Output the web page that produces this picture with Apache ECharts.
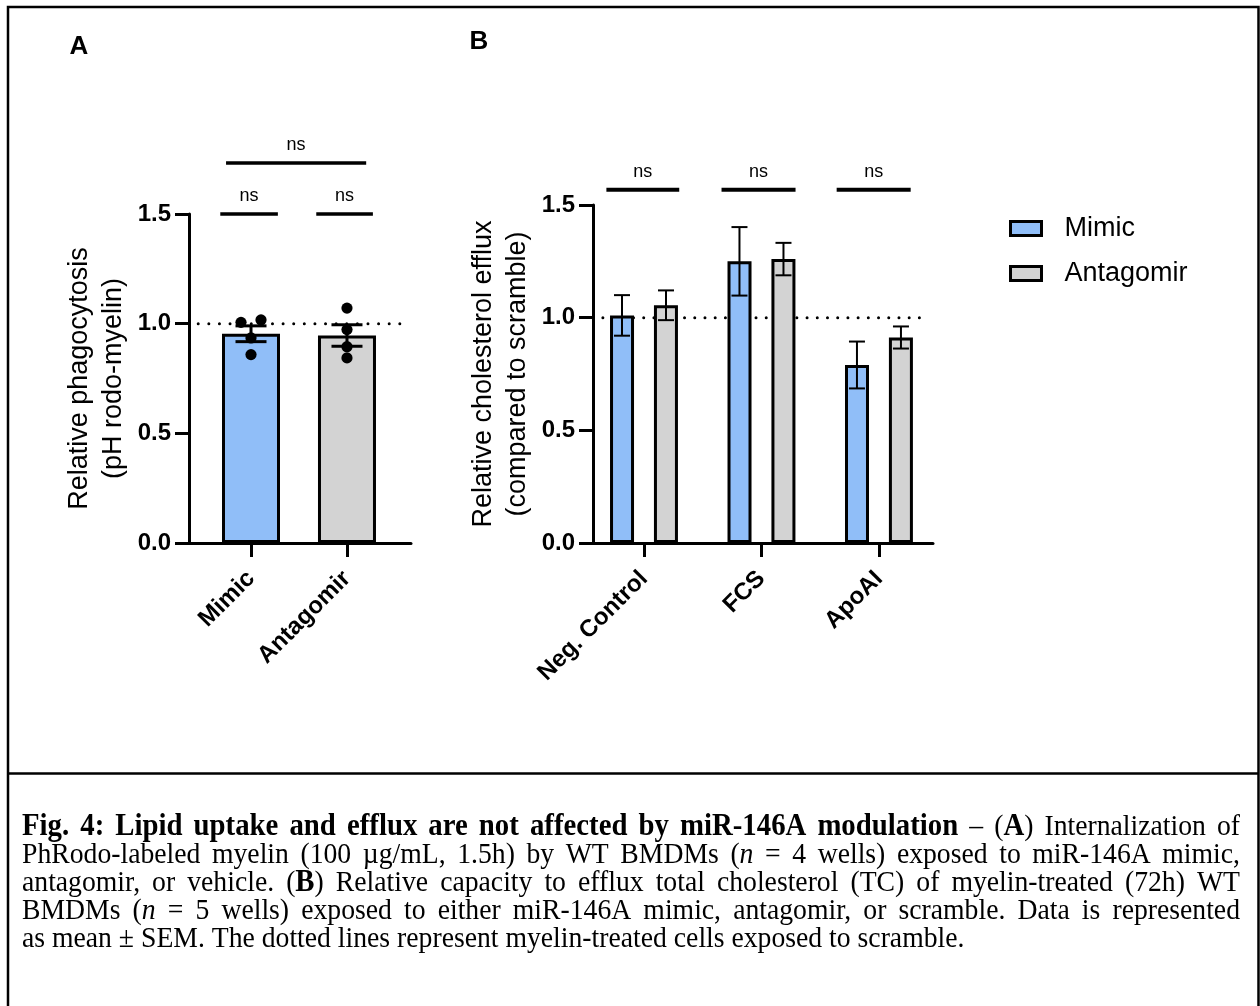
<!DOCTYPE html>
<html>
<head>
<meta charset="utf-8">
<script src="https://cdn.jsdelivr.net/npm/echarts@6/dist/echarts.min.js"></script>
<style>
  html, body { margin: 0; padding: 0; background: #fff; }
  #chart { width: 1260px; height: 1006px; }
</style>
</head>
<body>
<div id="chart"></div>
<script>
// ---- panel A : phagocytosis ----
const groupsA = ['Mimic', 'Antagomir'];
const meanA = [0.954, 0.946];
const semA = [0.036, 0.049];
const dotsMimicA = [1.006, 1.017, 0.935, 0.859];
const dotsAntagomirA = [1.071, 0.973, 0.895, 0.844];

// ---- panel B : cholesterol efflux ----
const groupsB = ['Neg. Control', 'FCS', 'ApoAI'];
const mimicB = [1.01, 1.25, 0.79];
const mimicSemB = [0.09, 0.152, 0.104];
const antagomirB = [1.055, 1.26, 0.912];
const antagomirSemB = [0.066, 0.072, 0.049];

const yTickStep = 0.5;
const yMax = 1.5;

const BLUE = '#90bef8';
const GREY = '#d3d3d3';
const SANS = 'Liberation Sans';
const SERIF = 'Liberation Serif';

function initChart() {
  let myChart = echarts.init(document.getElementById('chart'));

  // error bar drawn as a custom series, dx shifts it onto a grouped bar
  function errRender(halfCap, lw, dx) {
    return function (params, api) {
      let x = api.value(0), lo = api.value(1), hi = api.value(2);
      let pLo = api.coord([x, lo]), pHi = api.coord([x, hi]);
      let cx = pLo[0] + dx;
      let st = { stroke: '#000', lineWidth: lw };
      return {
        type: 'group',
        children: [
          { type: 'line', shape: { x1: cx, y1: pLo[1], x2: cx, y2: pHi[1] }, style: st },
          { type: 'line', shape: { x1: cx - halfCap, y1: pLo[1], x2: cx + halfCap, y2: pLo[1] }, style: st },
          { type: 'line', shape: { x1: cx - halfCap, y1: pHi[1], x2: cx + halfCap, y2: pHi[1] }, style: st }
        ]
      };
    };
  }

  // simple swarm: dots closer than ~one dot get pushed sideways
  function swarm(vals, i) {
    let sorted = vals.slice().sort((a, b) => a - b);
    let out = [];
    let k = 0;
    while (k < sorted.length) {
      let grp = [sorted[k]];
      let j = k + 1;
      while (j < sorted.length && sorted[j] - grp[grp.length - 1] < 0.04) {
        grp.push(sorted[j]);
        j++;
      }
      grp.forEach((v, n) => out.push([i, v, n - (grp.length - 1) / 2]));
      k = j;
    }
    return out;
  }

  // significance brackets [x from, x to, y]
  const sigA = [[-0.32, 0.28, 1.5], [0.68, 1.27, 1.5], [-0.26, 1.2, 1.732]];
  const sigB = [[-0.32, 0.30, 1.568], [0.66, 1.29, 1.568], [1.64, 2.27, 1.568]];

  function sigRender(lw) {
    return function (params, api) {
      let p1 = api.coord([api.value(0), api.value(2)]);
      let p2 = api.coord([api.value(1), api.value(2)]);
      return {
        type: 'group',
        children: [
          { type: 'line', shape: { x1: p1[0], y1: p1[1], x2: p2[0], y2: p2[1] }, style: { stroke: '#000', lineWidth: lw } },
          {
            type: 'text', x: (p1[0] + p2[0]) / 2, y: p1[1] - 18,
            style: { text: 'ns', fontSize: 18, fontFamily: SANS, fill: '#000', align: 'center', verticalAlign: 'middle' }
          }
        ]
      };
    };
  }

  const axisLineSt = { onZero: false, lineStyle: { color: '#000', width: 3 } };
  const tickSt = { length: 14, lineStyle: { color: '#000', width: 3 } };
  const yLabel = {
    fontSize: 24, fontWeight: 'bold', color: '#000', fontFamily: SANS, margin: 18,
    formatter: v => v.toFixed(1)
  };
  const yName = { fontSize: 27, lineHeight: 34, color: '#000', fontFamily: SANS };

  let option = {
    animation: false,
    textStyle: { fontFamily: SANS },
    grid: [
      { left: 189, top: 214, width: 222, height: 329 },
      { left: 593, top: 205, width: 340, height: 338 }
    ],
    xAxis: [
      {
        gridIndex: 0, type: 'value', min: -0.646, max: 1.667,
        axisLine: axisLineSt,
        axisTick: Object.assign({ customValues: [0, 1] }, tickSt),
        splitLine: { show: false },
        axisLabel: {
          customValues: [0, 1], rotate: 45, margin: 32,
          fontSize: 24, fontWeight: 'bold', color: '#000', fontFamily: SANS,
          formatter: v => groupsA[Math.round(v)]
        }
      },
      {
        gridIndex: 1, type: 'value', min: -0.434, max: 2.46,
        axisLine: axisLineSt,
        axisTick: Object.assign({ customValues: [0, 1, 2] }, tickSt),
        splitLine: { show: false },
        axisLabel: {
          customValues: [0, 1, 2], rotate: 45, margin: 32,
          fontSize: 24, fontWeight: 'bold', color: '#000', fontFamily: SANS,
          formatter: v => groupsB[Math.round(v)]
        }
      }
    ],
    yAxis: [
      {
        gridIndex: 0, type: 'value', min: 0, max: yMax, interval: yTickStep,
        name: 'Relative phagocytosis\n(pH rodo-myelin)', nameLocation: 'middle', nameGap: 58,
        nameTextStyle: yName,
        axisLine: axisLineSt, axisTick: tickSt, axisLabel: yLabel,
        splitLine: { show: false }
      },
      {
        gridIndex: 1, type: 'value', min: 0, max: yMax, interval: yTickStep,
        name: 'Relative cholesterol efflux\n(compared to scramble)', nameLocation: 'middle', nameGap: 58,
        nameTextStyle: yName,
        axisLine: axisLineSt, axisTick: tickSt, axisLabel: yLabel,
        splitLine: { show: false }
      }
    ],
    legend: {
      orient: 'vertical', left: 1009, top: 215, padding: 0,
      itemWidth: 31, itemHeight: 14, itemGap: 18,
      icon: 'rect',
      data: ['Mimic', 'Antagomir'],
      itemStyle: { borderColor: '#000', borderWidth: 3 },
      textStyle: { fontSize: 27, color: '#000', fontFamily: SANS, padding: [0, 0, 0, 18] }
    },
    series: [
      // dotted reference lines at 1.0 (behind bars)
      {
        type: 'line', xAxisIndex: 0, yAxisIndex: 0, z: 1, symbol: 'none', silent: true,
        data: [[-0.55, 1], [1.656, 1]],
        lineStyle: { color: '#000', width: 3, type: [0.01, 10.6], cap: 'round' }
      },
      {
        type: 'line', xAxisIndex: 1, yAxisIndex: 1, z: 1, symbol: 'none', silent: true,
        data: [[-0.35, 1], [2.417, 1]],
        lineStyle: { color: '#000', width: 3, type: [0.01, 10.2], cap: 'round' }
      },
      // panel A
      {
        name: 'phago', type: 'bar', xAxisIndex: 0, yAxisIndex: 0, barWidth: 58,
        itemStyle: { borderColor: '#000', borderWidth: 3 },
        data: meanA.map((v, i) => ({ value: [i, v], itemStyle: { color: i ? GREY : BLUE } }))
      },
      {
        type: 'custom', xAxisIndex: 0, yAxisIndex: 0, clip: false, z: 3,
        renderItem: errRender(15.5, 3, 0),
        encode: { x: 0, y: [1, 2] },
        data: meanA.map((v, i) => [i, v - semA[i], v + semA[i]])
      },
      {
        type: 'custom', xAxisIndex: 0, yAxisIndex: 0, clip: false, z: 4,
        renderItem: function (params, api) {
          let p = api.coord([api.value(0), api.value(1)]);
          return { type: 'circle', shape: { cx: p[0] + api.value(2) * 20, cy: p[1], r: 5.6 }, style: { fill: '#000' } };
        },
        encode: { x: 0, y: 1 },
        data: swarm(dotsMimicA, 0).concat(swarm(dotsAntagomirA, 1))
      },
      {
        type: 'custom', xAxisIndex: 0, yAxisIndex: 0, clip: false, silent: true,
        renderItem: sigRender(3.5),
        encode: { x: [0, 1], y: 2 },
        data: sigA
      },
      // panel B
      {
        name: 'Mimic', type: 'bar', xAxisIndex: 1, yAxisIndex: 1, barWidth: 24, barGap: '83%',
        itemStyle: { color: BLUE, borderColor: '#000', borderWidth: 3 },
        data: mimicB.map((v, i) => [i, v])
      },
      {
        name: 'Antagomir', type: 'bar', xAxisIndex: 1, yAxisIndex: 1, barWidth: 24, barGap: '83%',
        itemStyle: { color: GREY, borderColor: '#000', borderWidth: 3 },
        data: antagomirB.map((v, i) => [i, v])
      },
      {
        type: 'custom', xAxisIndex: 1, yAxisIndex: 1, clip: false, z: 3,
        renderItem: errRender(8, 2, -22),
        encode: { x: 0, y: [1, 2] },
        data: mimicB.map((v, i) => [i, v - mimicSemB[i], v + mimicSemB[i]])
      },
      {
        type: 'custom', xAxisIndex: 1, yAxisIndex: 1, clip: false, z: 3,
        renderItem: errRender(8, 2, 22),
        encode: { x: 0, y: [1, 2] },
        data: antagomirB.map((v, i) => [i, v - antagomirSemB[i], v + antagomirSemB[i]])
      },
      {
        type: 'custom', xAxisIndex: 1, yAxisIndex: 1, clip: false, silent: true,
        renderItem: sigRender(4),
        encode: { x: [0, 1], y: 2 },
        data: sigB
      }
    ],
    graphic: buildFrame().concat(buildCaption())
  };

  myChart.setOption(option);
  return myChart;
}

// outer box, separator and panel letters
function buildFrame() {
  return [
    { type: 'rect', shape: { x: 8, y: 7, width: 1250.5, height: 1030 }, style: { fill: 'none', stroke: '#000', lineWidth: 2.5 }, silent: true },
    { type: 'line', shape: { x1: 8, y1: 773.5, x2: 1258.5, y2: 773.5 }, style: { stroke: '#000', lineWidth: 2.5 }, silent: true },
    { type: 'text', x: 79, y: 47, style: { text: 'A', fontSize: 26, fontWeight: 'bold', fontFamily: SANS, fill: '#000', align: 'center', verticalAlign: 'middle' } },
    { type: 'text', x: 479, y: 42, style: { text: 'B', fontSize: 26, fontWeight: 'bold', fontFamily: SANS, fill: '#000', align: 'center', verticalAlign: 'middle' } }
  ];
}

// caption, justified word by word like the printed figure (glyphs a bit tall, as in the scan)
function buildCaption() {
  const lines = [
    [['b', 'Fig. 4: Lipid uptake and efflux are not affected by miR-146A modulation'], ['n', ' – ('], ['b', 'A'], ['n', ') Internalization of']],
    [['n', 'PhRodo-labeled myelin (100 µg/mL, 1.5h) by WT BMDMs ('], ['i', 'n'], ['n', ' = 4 wells) exposed to miR-146A mimic,']],
    [['n', 'antagomir, or vehicle. ('], ['b', 'B'], ['n', ') Relative capacity to efflux total cholesterol (TC) of myelin-treated (72h) WT']],
    [['n', 'BMDMs ('], ['i', 'n'], ['n', ' = 5 wells) exposed to either miR-146A mimic, antagomir, or scramble. Data is represented']],
    [['n', 'as mean ± SEM. The dotted lines represent myelin-treated cells exposed to scramble.']]
  ];
  const size = 27.7;
  const boldSize = 28.8;
  const stretch = 1.08;
  const x0 = 22, x1 = 1240, base0 = 837, lead = 28;
  const fonts = {
    n: size + 'px "' + SERIF + '"',
    b: 'bold ' + boldSize + 'px "' + SERIF + '"',
    i: 'italic ' + size + 'px "' + SERIF + '"'
  };
  const rich = {
    n: { fontSize: size, fontFamily: SERIF, fill: '#000' },
    b: { fontSize: boldSize, fontFamily: SERIF, fontWeight: 'bold', fill: '#000' },
    i: { fontSize: size, fontFamily: SERIF, fontStyle: 'italic', fill: '#000' }
  };
  const ctx = document.createElement('canvas').getContext('2d');
  function measure(s, t) { ctx.font = fonts[s]; return ctx.measureText(t).width; }
  const space = measure('n', ' ');

  let out = [];
  lines.forEach((line, li) => {
    let words = [[]];
    line.forEach(([s, t]) => {
      t.split(' ').forEach((piece, k) => {
        if (k > 0) words.push([]);
        if (piece) words[words.length - 1].push([s, piece]);
      });
    });
    words = words.filter(w => w.length);
    let widths = words.map(w => w.reduce((a, [s, t]) => a + measure(s, t), 0));
    let total = widths.reduce((a, b) => a + b, 0);
    let justify = li < lines.length - 1;
    let gap = justify ? Math.max((x1 - x0 - total) / (words.length - 1), space * 0.6) : space;
    let x = x0;
    let y = base0 + li * lead - 10;
    words.forEach((w, k) => {
      out.push({
        type: 'text', x: x, y: y, scaleY: stretch, silent: true,
        style: {
          text: w.map(([s, t]) => '{' + s + '|' + t + '}').join(''),
          rich: rich, fontSize: size, fontFamily: SERIF, fill: '#000',
          align: 'left', verticalAlign: 'middle'
        }
      });
      x += widths[k] + gap;
    });
  });
  return out;
}

initChart();
</script>
</body>
</html>
